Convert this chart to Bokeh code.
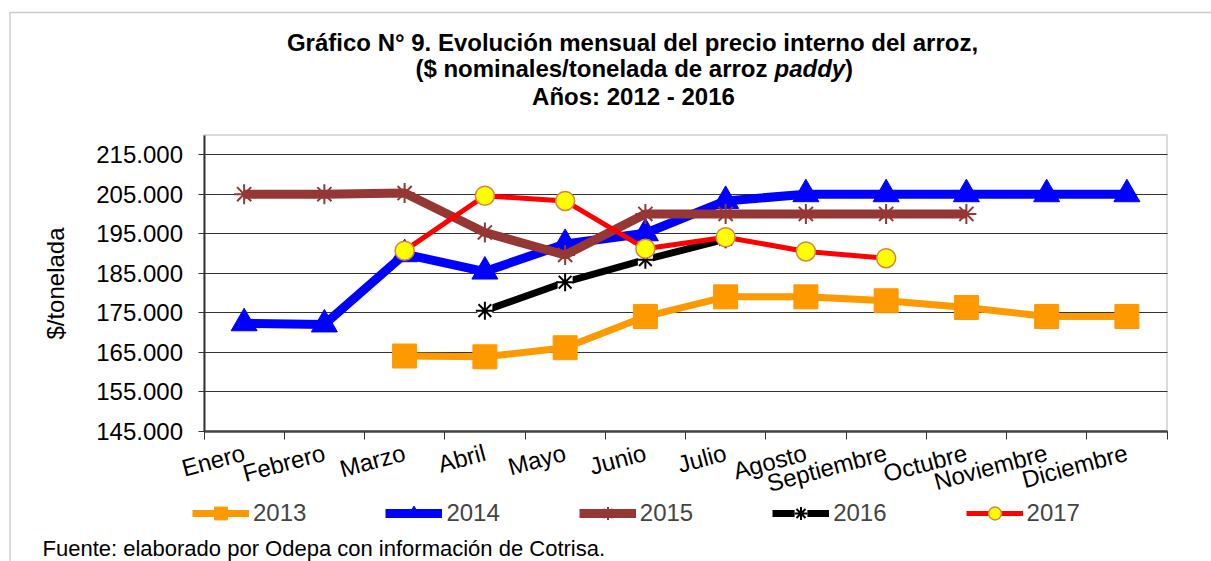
import math
from bokeh.plotting import figure
from bokeh.models import (Range1d, FixedTicker, Legend, LegendItem, Label, LinearAxis,
                          Grid, BoxAnnotation)
from bokeh.embed import file_html
from bokeh.resources import INLINE

# ---------------- data ----------------
months = ["Enero", "Febrero", "Marzo", "Abril", "Mayo", "Junio", "Julio",
          "Agosto", "Septiembre", "Octubre", "Noviembre", "Diciembre"]

p2013 = [None, None, 164000, 163800, 166100, 174000, 179000, 179000, 178000, 176300, 174000, 174000]
p2014 = [172300, 172000, 189800, 185400, 192400, 195100, 203300, 205000, 205000, 205000, 205000, 205000]
p2015 = [205000, 205000, 205300, 195300, 189600, 200000, 200000, 200000, 200000, 200000, None, None]
p2016 = [None, None, None, 175500, 182700, 188400, 193600, None, None, None, None, None]
p2017 = [None, None, 190700, 204600, 203300, 191200, 194100, 190500, 188800, None, None, None]

series_names = ["2013", "2014", "2015", "2016", "2017"]

y_ticks = [145000, 155000, 165000, 175000, 185000, 195000, 205000, 215000]
y_tick_labels = ["145.000", "155.000", "165.000", "175.000", "185.000", "195.000", "205.000", "215.000"]
y_min, y_max = 145000, 220000

title_line1 = "Gráfico N° 9. Evolución mensual del precio interno del arroz,"
title_line2a = "($ nominales/tonelada de arroz"
title_line2b = "paddy"
title_line2c = ")"
title_line3 = "Años: 2012 - 2016"
y_axis_title = "$/tonelada"
source_note = "Fuente: elaborado por Odepa con información de Cotrisa."

FONT = "Liberation Sans"
FS = "24px"

# ---------------- layout geometry (canvas pixels) ----------------
W, H = 1211, 561
N = len(months)
FX0, FX1 = 203.5, 1166.5      # plot-area left / right
FY0, FY1 = 430.5, 134.5       # plot-area bottom / top
kx = N / (FX1 - FX0)
ky = (y_max - y_min) / (FY0 - FY1)
x_start, x_end = 0 - FX0 * kx, N + (W - FX1) * kx
y_start, y_end = y_min - (H - FY0) * ky, y_max + FY1 * ky


def cx(px):
    return x_start + px * kx


def cy(py):
    return y_end - py * ky


p = figure(width=W, height=H, output_backend="svg", toolbar_location=None,
           x_range=Range1d(x_start, x_end), y_range=Range1d(y_start, y_end),
           x_axis_type=None, y_axis_type=None, min_border=0)
p.background_fill_color = "white"
p.border_fill_color = "white"
p.outline_line_color = None

# outer chart border and plot-area border
p.add_layout(BoxAnnotation(left=cx(9.5), right=cx(W + 30), top=cy(12), bottom=cy(H + 30),
                           fill_alpha=0, line_color="#555555", line_width=1.5, level="underlay"))
p.add_layout(BoxAnnotation(left=0, right=N, bottom=y_min, top=y_max,
                           fill_alpha=0, line_color="#888888", line_width=2, level="underlay"))

# horizontal grid lines, limited to the plot area
grid = Grid(dimension=1, ticker=FixedTicker(ticks=y_ticks), bounds=(y_min, y_max),
            grid_line_color="#333333", grid_line_width=1)
try:
    grid.cross_bounds = (0, N)
    p.add_layout(grid)
except AttributeError:
    p.segment(x0=[0] * len(y_ticks), x1=[N] * len(y_ticks), y0=y_ticks, y1=y_ticks,
              line_color="#333333", line_width=1, level="underlay")

# y axis
xc = [i + 0.5 for i in range(N)]
yax = LinearAxis(fixed_location=0, bounds=(y_min, y_max), ticker=FixedTicker(ticks=y_ticks))
yax.major_label_overrides = {t: l for t, l in zip(y_ticks, y_tick_labels)}
yax.minor_tick_line_color = None
yax.major_tick_in = 0
yax.major_tick_out = 6
yax.major_tick_line_color = "#333333"
yax.major_label_standoff = 15
yax.major_label_text_font = FONT
yax.major_label_text_font_size = FS
yax.major_label_text_color = "black"
yax.axis_line_color = "#333333"
yax.axis_line_width = 2
yax.axis_label = y_axis_title
yax.axis_label_text_font = FONT
yax.axis_label_text_font_size = FS
yax.axis_label_text_font_style = "normal"
yax.axis_label_text_color = "black"
yax.axis_label_standoff = 25
p.add_layout(yax, "left")

# x axis
xax = LinearAxis(fixed_location=y_min, bounds=(0, N),
                 ticker=FixedTicker(ticks=xc, minor_ticks=list(range(N + 1))))
xax.major_label_overrides = {x: m for x, m in zip(xc, months)}
xax.major_tick_in = 0
xax.major_tick_out = 0
xax.minor_tick_in = 0
xax.minor_tick_out = 8
xax.minor_tick_line_color = "#333333"
xax.major_label_orientation = math.radians(15)
xax.major_label_standoff = 13
xax.major_label_text_font = FONT
xax.major_label_text_font_size = FS
xax.major_label_text_color = "black"
xax.axis_line_color = "#444444"
xax.axis_line_width = 2.5
p.add_layout(xax, "below")


def pts(vals):
    xs = [x for x, v in zip(xc, vals) if v is not None]
    ys = [v for v in vals if v is not None]
    return xs, ys


items = []

x, y = pts(p2013)
l = p.line(x, y, line_color="#FF9900", line_width=7)
m = p.scatter(x, y, marker="square", size=24, fill_color="#FF9900", line_color="#FF9900")
items.append(LegendItem(label=series_names[0], renderers=[l, m]))

x, y = pts(p2014)
l = p.line(x, y, line_color="#0000FF", line_width=9)
m = p.scatter(x, y, marker="triangle", size=26, fill_color="#0000FF", line_color="#0000FF")
items.append(LegendItem(label=series_names[1], renderers=[l, m]))

x, y = pts(p2015)
l = p.line(x, y, line_color="#953735", line_width=9)
m = p.scatter(x, y, marker="asterisk", size=20, line_color="#953735", line_width=2)
items.append(LegendItem(label=series_names[2], renderers=[l, m]))

x, y = pts(p2016)
l = p.line(x, y, line_color="black", line_width=7)
bg = p.scatter(x, y, marker="square", size=15, fill_color="white", line_color=None)
m = p.scatter(x, y, marker="asterisk", size=18, line_color="black", line_width=2)
items.append(LegendItem(label=series_names[3], renderers=[l, bg, m]))

x, y = pts(p2017)
l = p.line(x, y, line_color="#FF0000", line_width=5)
m = p.scatter(x, y, marker="circle", size=19, fill_color="#FFFF00", line_color="#D9843B", line_width=1.5)
items.append(LegendItem(label=series_names[4], renderers=[l, m]))

legend = Legend(items=items, orientation="horizontal", location=(192, 32),
                glyph_width=57, glyph_height=32, label_standoff=4, spacing=79,
                padding=0, margin=0, border_line_color=None, background_fill_alpha=0,
                label_text_font=FONT, label_text_font_size=FS)
p.add_layout(legend)


# title
def tlabel(px, py, text, align, style):
    p.add_layout(Label(x=cx(px), y=cy(py), text=text, text_font=FONT, text_font_size=FS,
                       text_font_style=style, text_align=align, text_baseline="middle",
                       text_color="black"))


tlabel(632, 42, title_line1, "center", "bold")
tlabel(767, 68, title_line2a, "right", "bold")
tlabel(774, 68, title_line2b, "left", "bold italic")
tlabel(844.5, 68, title_line2c, "left", "bold")
tlabel(633, 96, title_line3, "center", "bold")

# source note
p.add_layout(Label(x=cx(42), y=cy(560), text=source_note, text_font=FONT, text_font_size="22px",
                   text_align="left", text_baseline="bottom", text_color="black"))

open("out.html", "w").write(file_html(p, INLINE))
